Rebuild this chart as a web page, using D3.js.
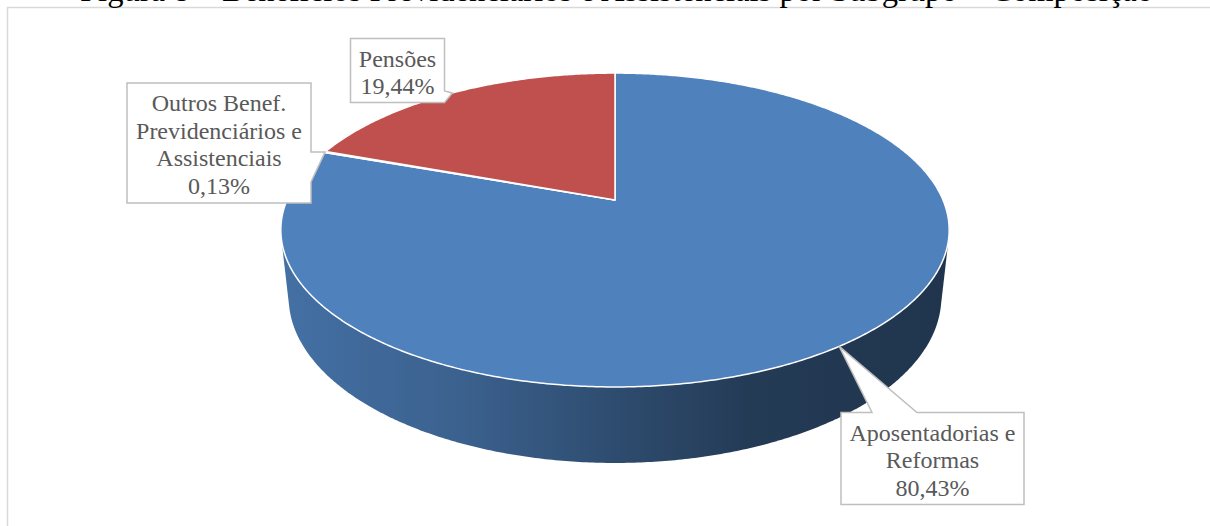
<!DOCTYPE html>
<html>
<head>
<meta charset="utf-8">
<script src="https://cdn.jsdelivr.net/npm/d3@7"></script>
<style>
  html, body { margin: 0; padding: 0; background: #fff; overflow: hidden; }
  svg { display: block; }
</style>
</head>
<body>
<svg id="chart" width="1210" height="526"></svg>
<script>
// ---- data ----
const categories = [
  "Aposentadorias e Reformas",
  "Outros Benef. Previdenciários e Assistenciais",
  "Pensões"
];
const shares = [80.43, 0.13, 19.44];
const sliceColors = ["#4f81bd", "#9bbb59", "#c0504d"];
const labelLines = [
  ["Aposentadorias e", "Reformas"],
  ["Outros Benef.", "Previdenciários e", "Assistenciais"],
  ["Pensões"]
];
const titleText = "Figura 8 – Benefícios Previdenciários e Assistenciais por Subgrupo – Composição";

// ---- layout of the callout boxes (x, y, width, tail attachment) ----
const boxLayout = [
  { x: 841, y: 412.5, w: 183, side: "top",   a: 872, b: 917 },
  { x: 127, y: 83,    w: 184, side: "right", a: 152, b: 182 },
  { x: 350.5, y: 38.5, w: 94, side: "right", a: 91,  b: 102.5 }
];

const W = 1210, H = 526;
const serif = "'Liberation Serif', 'Times New Roman', Times, serif";
const svg = d3.select("#chart");
const defs = svg.append("defs");

// chart frame
svg.append("rect")
  .attr("x", 7.5).attr("y", 7.5)
  .attr("width", W + 40).attr("height", H + 40)
  .attr("fill", "none")
  .attr("stroke", "#d9d9d9")
  .attr("stroke-width", 1.5);

// caption running above the frame
svg.append("text")
  .attr("x", 80).attr("y", 0.6)
  .attr("font-family", serif)
  .attr("font-size", 32.6)
  .attr("fill", "#000")
  .text(titleText);

// ---- 3D pie: perspective projection of a tilted disc ----
const cam = { cx: 615, cy: 200, F: 1522, R: 0.2155, tilt: Math.asin(0.461), T: 0.05 };
function project(angle, z, r = 1) {
  const x = r * cam.R * Math.sin(angle);
  const yd = r * cam.R * Math.cos(angle);
  const s = Math.sin(cam.tilt), c = Math.cos(cam.tilt);
  const v = yd * s + z * c;
  const w = 1 + yd * c - z * s;
  return [cam.cx + cam.F * x / w, cam.cy - cam.F * v / w];
}
function arcSamples(a0, a1, z) {
  const n = Math.max(2, Math.ceil((a1 - a0) / (Math.PI / 360)));
  return d3.range(n + 1).map(i => project(a0 + (a1 - a0) * i / n, z));
}

const pie = d3.pie().sort(null).value(d => d)
  .startAngle(0).endAngle(2 * Math.PI);
const arcs = pie(shares);

// horizontal shading for the side wall of each slice
const sideStops = [[0, 0.4], [0.27, 0.8], [0.5, 1.5], [0.7, 2.2], [1, 2.5]];
const leftX = project(-Math.PI * 0.58, 0)[0], rightX = project(Math.PI * 0.58, 0)[0];
arcs.forEach((d, i) => {
  const g = defs.append("linearGradient")
    .attr("id", "side" + i)
    .attr("gradientUnits", "userSpaceOnUse")
    .attr("x1", leftX).attr("x2", rightX).attr("y1", 0).attr("y2", 0);
  sideStops.forEach(([o, k]) => {
    g.append("stop").attr("offset", o)
      .attr("stop-color", d3.color(sliceColors[i]).darker(k).formatHex());
  });
});

// side walls, far slices first
const sideOrder = arcs.map((d, i) => i)
  .sort((p, q) => {
    const mp = (arcs[p].startAngle + arcs[p].endAngle) / 2;
    const mq = (arcs[q].startAngle + arcs[q].endAngle) / 2;
    return Math.cos(mq) - Math.cos(mp);
  });
const sideLayer = svg.append("g");
sideOrder.forEach(i => {
  const d = arcs[i];
  const pts = arcSamples(d.startAngle, d.endAngle, 0)
    .concat(arcSamples(d.startAngle, d.endAngle, -cam.T));
  const hull = d3.polygonHull(pts);
  sideLayer.append("path")
    .attr("d", "M" + hull.map(p => p.join(",")).join("L") + "Z")
    .attr("fill", `url(#side${i})`);
});

// top faces
const faceLayer = svg.append("g");
arcs.forEach((d, i) => {
  const pts = [project(0, 0, 0)].concat(arcSamples(d.startAngle, d.endAngle, 0));
  faceLayer.append("path")
    .attr("d", "M" + pts.map(p => p.join(",")).join("L") + "Z")
    .attr("fill", sliceColors[i])
    .attr("stroke", "#ffffff")
    .attr("stroke-width", 1.5)
    .attr("stroke-linejoin", "round");
});

// ---- callout labels ----
const fmt = v => v.toFixed(2).replace(".", ",") + "%";
const lineH = 27.5;
const labelLayer = svg.append("g");
arcs.forEach((d, i) => {
  const b = boxLayout[i];
  const lines = labelLines[i].concat([fmt(shares[i])]);
  const h = 8 + 28 * lines.length;
  const mid = (d.startAngle + d.endAngle) / 2;
  const tip = project(mid, 0);
  let path;
  if (b.side === "top") {
    path = `M${b.x},${b.y}H${b.a}L${tip[0]},${tip[1]}L${b.b},${b.y}H${b.x + b.w}V${b.y + h}H${b.x}Z`;
  } else {
    path = `M${b.x},${b.y}H${b.x + b.w}V${b.a}L${tip[0]},${tip[1]}L${b.x + b.w},${b.b}V${b.y + h}H${b.x}Z`;
  }
  labelLayer.append("path")
    .attr("d", path)
    .attr("fill", "#ffffff")
    .attr("stroke", "#bfbfbf")
    .attr("stroke-width", 1.5)
    .attr("stroke-linejoin", "miter");
  const t = labelLayer.append("text")
    .attr("font-family", serif)
    .attr("font-size", 24)
    .attr("fill", "#595959")
    .attr("text-anchor", "middle");
  lines.forEach((ln, k) => {
    t.append("tspan")
      .attr("x", b.x + b.w / 2)
      .attr("y", b.y + 28 + k * lineH)
      .text(ln);
  });
});
</script>
</body>
</html>
